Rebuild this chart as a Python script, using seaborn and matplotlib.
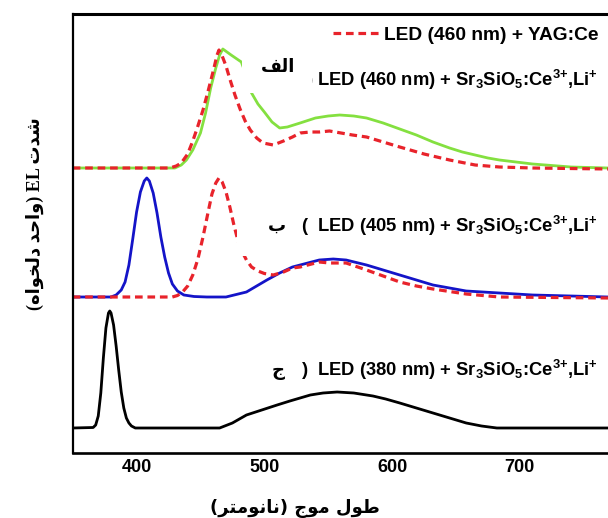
import numpy as np
import pandas as pd
import matplotlib
matplotlib.use('Agg')
import matplotlib.pyplot as plt
import seaborn as sns
from matplotlib.lines import Line2D
from matplotlib.patches import Rectangle

# ---------------------------------------------------------------------------
# Spectra (wavelength in nm, EL intensity in a.u.)
# ---------------------------------------------------------------------------
# (a) LED 460 nm + Sr3SiO5:Ce,Li  (green)
a_green_wl = [350, 430, 435, 439, 444, 450, 454, 458, 462, 465, 467.5, 474, 482,
              486, 490, 495, 500, 506, 512, 518, 528, 540, 550, 559, 570, 580,
              593, 606, 619, 632, 645, 655, 665, 675, 684, 697, 710, 740, 769]
a_green_I = [0, 0, 3, 8, 18, 35, 55, 80, 100, 113, 119, 113, 106,
             92, 75, 64, 56, 46, 40, 41, 45, 50, 52, 53, 52, 50,
             45, 39, 33, 26, 20, 16, 13, 10, 8, 6, 4, 1, 0]

# (a) LED 460 nm + YAG:Ce  (red dashed)
a_red_wl = [350, 426, 431, 435, 440, 444, 448, 452, 456, 460, 463, 464.5, 467,
            470, 473, 477, 481, 485, 489, 494, 499, 507, 515, 522, 528, 536,
            543, 551, 560, 569, 580, 593, 606, 625, 645, 665, 684, 710, 769]
a_red_I = [0, 0, 2, 5, 14, 27, 42, 58, 77, 97, 113, 118, 112,
           102, 89, 73, 59, 47, 38, 30, 25, 23, 27, 31, 35, 36,
           36, 37, 35, 33, 31, 26, 21, 14, 8, 3, 1, 0, -1]

# (b) LED 405 nm + Sr3SiO5:Ce,Li  (blue)
b_blue_wl = [350, 380, 384, 388, 391, 394, 397, 400, 403, 406, 408, 410, 413,
             416, 419, 422, 425, 428, 432, 437, 445, 455, 470, 486, 502, 512,
             522, 528, 543, 554, 564, 580, 593, 606, 619, 632, 658, 684, 710,
             740, 769]
b_blue_I = [0, 0, 2, 7, 15, 32, 58, 85, 105, 116, 119, 116, 104,
            84, 60, 40, 24, 13, 6, 2, 0.5, 0, 0, 5, 17, 24,
            30, 32, 37, 38, 37, 32, 27, 22, 17, 12, 6, 4, 2,
            1, 0]

# (b) LED 460 nm + YAG:Ce reference  (red dashed)
b_red_wl = [350, 428, 432, 436, 440, 444, 448, 452, 456, 459, 462, 464.5, 467,
            470, 473, 476, 479, 482, 486, 490, 495, 500, 507, 515, 522, 528,
            543, 551, 564, 580, 593, 606, 619, 632, 658, 684, 769]
b_red_I = [0, 0, 1.5, 5, 11, 22, 38, 60, 85, 103, 114, 119, 115,
           105, 90, 73, 58, 47, 37, 30, 26, 23.5, 22, 25, 29, 30,
           35, 34, 34, 27, 21, 15, 11, 8, 3, 0, -1]

# (c) LED 380 nm + Sr3SiO5:Ce,Li  (black)
c_black_wl = [350, 366, 368, 370, 372, 374, 376, 378, 379, 380, 382, 384, 386,
              388, 390, 392, 394, 396, 399, 465, 475, 486, 498, 510, 520, 528,
              536, 546, 557, 570, 585, 595, 606, 619, 632, 645, 658, 670, 682, 769]
c_black_I = [0, 0.5, 3, 12, 35, 70, 100, 115, 117, 115, 103, 82, 58,
             36, 20, 10, 5, 2, 0, 0, 5, 13, 18, 23, 27, 30,
             33, 35, 36, 35, 32, 29, 25, 20, 15, 10, 5, 2, 0, 0]

# vertical offsets of the three stacked spectra
OFFSET_A, OFFSET_B, OFFSET_C = 285, 156, 25

# text
legend_label = 'LED (460 nm) + YAG:Ce'
phosphor = ' LED ({} nm) + Sr$_3$SiO$_5$:Ce$^{{3{{+}}}}$,Li$^{{+}}$'
tick_values = [400, 500, 600, 700]
minor_values = [450, 550, 650]

# ---------------------------------------------------------------------------
# Arabic shaping (matplotlib draws glyphs unjoined and left to right)
# forms: isolated, final, initial, medial
# ---------------------------------------------------------------------------
FORMS = {
    'ا': ('\uFE8D', '\uFE8E', None, None),
    'ب': ('\uFE8F', '\uFE90', '\uFE91', '\uFE92'),
    'ت': ('\uFE95', '\uFE96', '\uFE97', '\uFE98'),
    'ج': ('\uFE9D', '\uFE9E', '\uFE9F', '\uFEA0'),
    'ح': ('\uFEA1', '\uFEA2', '\uFEA3', '\uFEA4'),
    'خ': ('\uFEA5', '\uFEA6', '\uFEA7', '\uFEA8'),
    'د': ('\uFEA9', '\uFEAA', None, None),
    'ر': ('\uFEAD', '\uFEAE', None, None),
    'ش': ('\uFEB5', '\uFEB6', '\uFEB7', '\uFEB8'),
    'ط': ('\uFEC1', '\uFEC2', '\uFEC3', '\uFEC4'),
    'ف': ('\uFED1', '\uFED2', '\uFED3', '\uFED4'),
    'ل': ('\uFEDD', '\uFEDE', '\uFEDF', '\uFEE0'),
    'م': ('\uFEE1', '\uFEE2', '\uFEE3', '\uFEE4'),
    'ن': ('\uFEE5', '\uFEE6', '\uFEE7', '\uFEE8'),
    'ه': ('\uFEE9', '\uFEEA', '\uFEEB', '\uFEEC'),
    'و': ('\uFEED', '\uFEEE', None, None),
}


def shape(word):
    out = []
    for i, ch in enumerate(word):
        f = FORMS.get(ch)
        if f is None:
            out.append(ch)
            continue
        prev = word[i - 1] if i > 0 else None
        nxt = word[i + 1] if i < len(word) - 1 else None
        join_prev = prev in FORMS and FORMS[prev][2] is not None
        join_next = f[2] is not None and nxt in FORMS
        if join_prev and join_next:
            out.append(f[3])
        elif join_prev:
            out.append(f[1])
        elif join_next:
            out.append(f[2])
        else:
            out.append(f[0])
    return ''.join(reversed(out))


ylabel = '(' + shape('دلخواه') + ' ' + shape('واحد') + ') EL ' + shape('شدت')
xlabel = '(' + shape('نانومتر') + ') ' + shape('موج') + ' ' + shape('طول')
tag_a, tag_b, tag_c = shape('الف'), shape('ب'), shape('ج')

# ---------------------------------------------------------------------------
# Figure
# ---------------------------------------------------------------------------
sns.set_style('white')
plt.rcParams['font.family'] = ['Liberation Sans', 'DejaVu Sans']
plt.rcParams['font.weight'] = 'bold'
plt.rcParams['text.color'] = 'black'
plt.rcParams['axes.labelcolor'] = 'black'
plt.rcParams['xtick.color'] = 'black'
plt.rcParams['mathtext.fontset'] = 'custom'
plt.rcParams['mathtext.bf'] = 'Liberation Sans:bold'
plt.rcParams['mathtext.rm'] = 'Liberation Sans:bold'
plt.rcParams['mathtext.default'] = 'bf'

W, H = 608, 518
fig = plt.figure(figsize=(W / 100, H / 100), dpi=100)
ax = fig.add_axes([72.7 / W, 1 - 453 / H, (W - 72.7) / W, (453 - 13.5) / H])

GREEN = '#84e040'
RED = '#e8232b'
BLUE = '#1414c8'
DASH = (0, (2.4, 1.5))


def curve(wl, inten, offset, **kw):
    df = pd.DataFrame({'wl': wl, 'I': np.asarray(inten, float) + offset})
    sns.lineplot(data=df, x='wl', y='I', ax=ax, sort=False, **kw)


curve(a_green_wl, a_green_I, OFFSET_A, color=GREEN, lw=2.0)
curve(a_red_wl, a_red_I, OFFSET_A, color=RED, lw=2.3, linestyle=DASH)
curve(b_blue_wl, b_blue_I, OFFSET_B, color=BLUE, lw=2.0)
curve(b_red_wl, b_red_I, OFFSET_B, color=RED, lw=2.3, linestyle=DASH)
curve(c_black_wl, c_black_I, OFFSET_C, color='black', lw=2.0)

ax.set_xlim(350, 769)
ax.set_ylim(0, 439.5)
ax.set_xticks(tick_values)
ax.set_xticks(minor_values, minor=True)
ax.set_yticks([])
ax.set_xlabel('')
ax.set_ylabel('')
ax.tick_params(axis='x', which='major', direction='in', length=7, width=1.5,
               labelsize=13, pad=4, top=False, colors='black')
ax.tick_params(axis='x', which='minor', direction='in', length=5, width=1.5,
               top=False, colors='black')
for lab in ax.get_xticklabels():
    lab.set_fontweight('bold')
ax.spines['right'].set_visible(False)
ax.spines['top'].set_linewidth(2.2)
ax.spines['bottom'].set_linewidth(1.9)
ax.spines['left'].set_linewidth(1.6)
for s in ax.spines.values():
    s.set_color('black')


# white patches left over from the relabelled original
def px_rect(x0, y0, x1, y1, z):
    ax.add_patch(Rectangle((x0 / W, 1 - y1 / H), (x1 - x0) / W, (y1 - y0) / H,
                           transform=fig.transFigure, facecolor='white',
                           edgecolor='none', zorder=z))


px_rect(242, 55, 312, 93, 3.5)
px_rect(237, 215, 298, 256, 2.5)

# legend for the dashed reference
handle = Line2D([], [], color=RED, lw=2.3, linestyle=DASH)
leg = ax.legend([handle], [legend_label], loc='center right',
                bbox_to_anchor=((598 - 72.7) / (W - 72.7), (453 - 35) / 439.5),
                frameon=False, handlelength=2.5, handletextpad=0.15,
                borderpad=0, borderaxespad=0,
                prop={'weight': 'bold', 'size': 13.8, 'family': 'Liberation Sans'})
for t in leg.get_texts():
    t.set_color('black')

xr = (598 - 72.7) / (W - 72.7)
for nm, ypx, pre in [(460, 86.5, ')'), (405, 231.5, '( '), (380, 376.5, ') ')]:
    yf = (453 - ypx) / 439.5
    ax.text(xr, yf, pre + phosphor.format(nm), transform=ax.transAxes,
            ha='right', va='baseline', fontsize=13.25, fontweight='bold',
            family='Liberation Sans', color='black', zorder=3)

for tag, xpx, ypx in [(tag_a, 278, 67), (tag_b, 277, 226), (tag_c, 278, 371)]:
    ax.text((xpx - 72.7) / (W - 72.7), (453 - ypx) / 439.5, tag,
            transform=ax.transAxes, ha='center', va='center', fontsize=13,
            family='DejaVu Sans', fontweight='bold', color='black', zorder=5)

ax.set_xlabel(xlabel, fontsize=13, fontweight='bold', family=['DejaVu Sans'],
              color='black')
ax.xaxis.label.set_va('center')
ax.xaxis.set_label_coords((295 - 72.7) / (W - 72.7), (453 - 508) / 439.5)
ax.set_ylabel(ylabel, fontsize=13, fontweight='bold',
              family=['Liberation Serif', 'DejaVu Sans'], color='black')
ax.yaxis.label.set_va('center')
ax.yaxis.set_label_coords((35 - 72.7) / (W - 72.7), (453 - 214) / 439.5)

fig.savefig('out.png', dpi=100)
